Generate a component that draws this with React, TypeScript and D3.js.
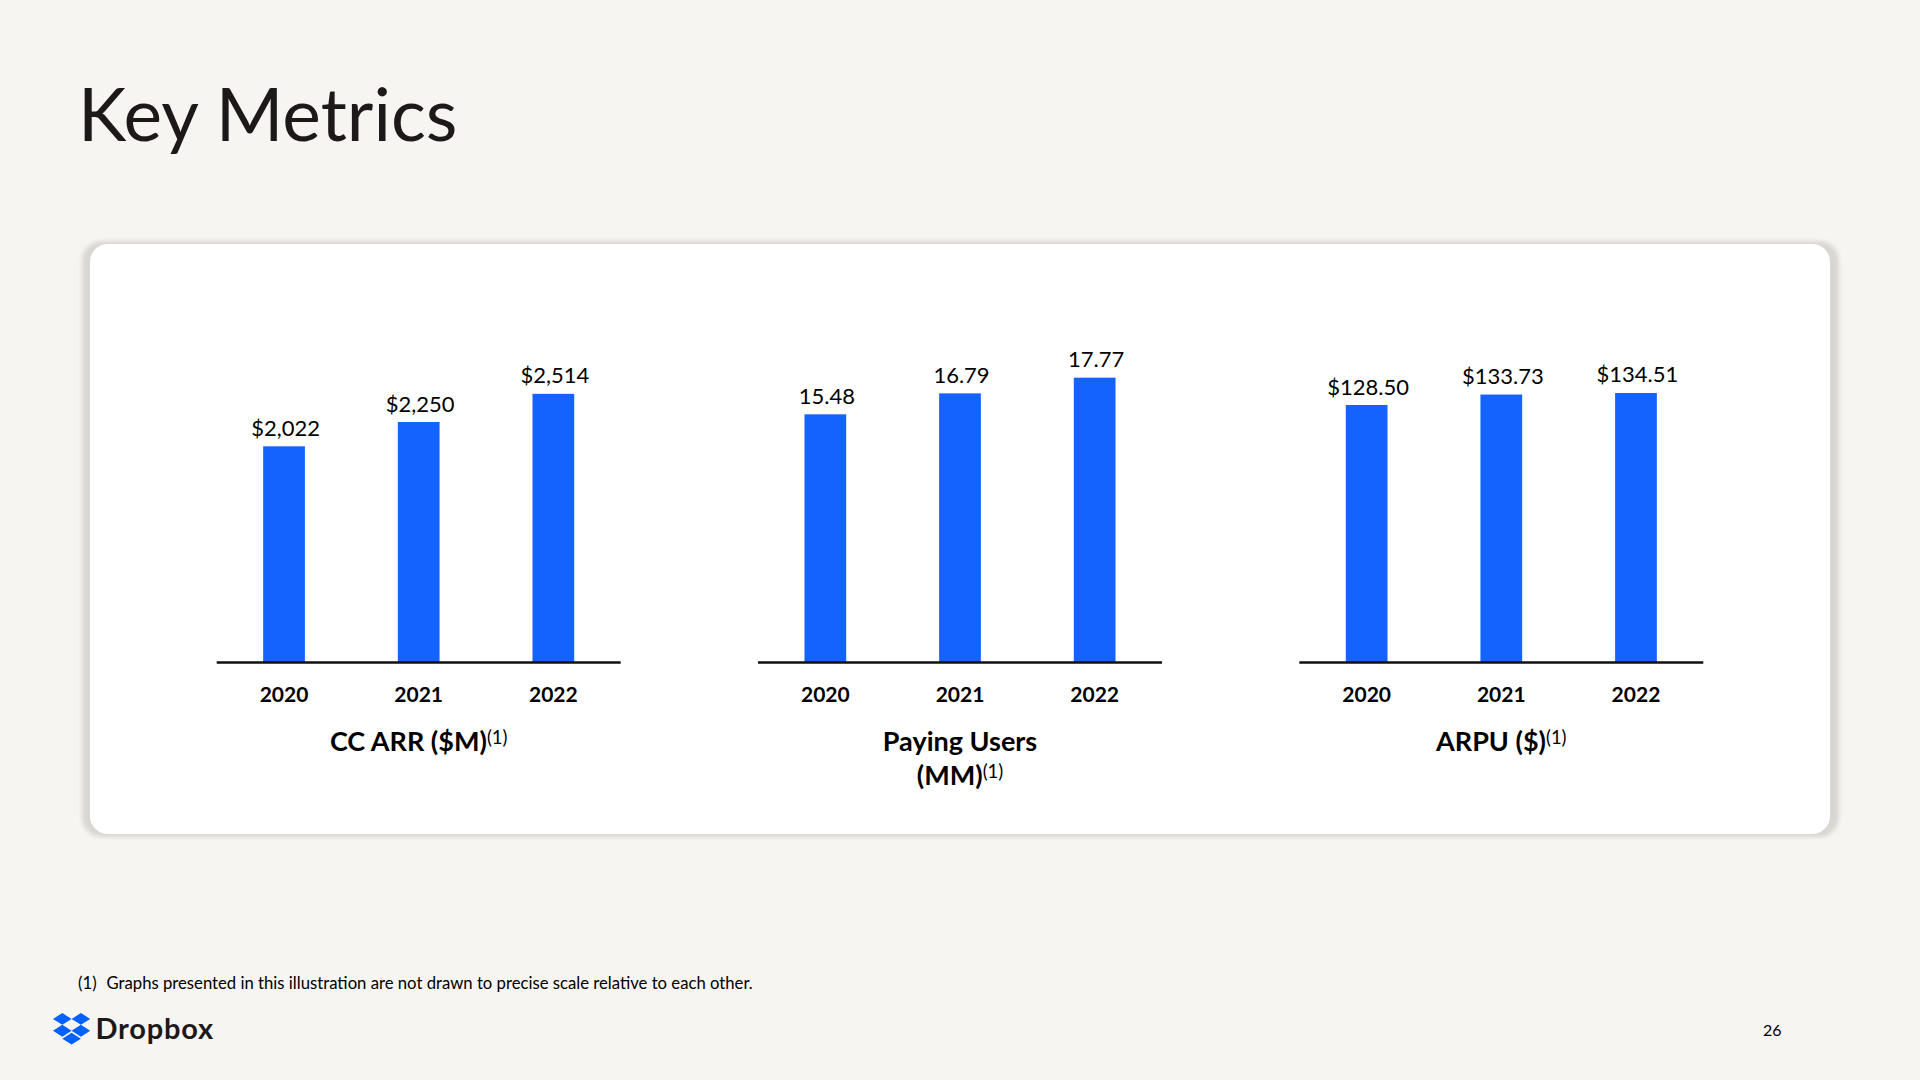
import React from "react";
import * as d3 from "d3";

// ---------- data ----------
const years = ["2020", "2021", "2022"];
const ccArr = [2022, 2250, 2514];
const payingUsers = [15.48, 16.79, 17.77];
const arpu = [128.5, 133.73, 134.51];

const chartTitles = [["CC ARR ($M)"], ["Paying Users", "(MM)"], ["ARPU ($)"]];
const chartMax = [3000, 20, 160];
const footnoteNumber = "(1)";
const footnoteText = "Graphs presented in this illustration are not drawn to precise scale relative to each other.";
const pageNumber = "26";

const formats = [d3.format("$,"), d3.format(".2f"), d3.format("$.2f")];
const seriesList = [ccArr, payingUsers, arpu];

const W = 1920;
const H = 1080;
const BG = "#f7f5f2";
const BLUE = "#1563ff";
const FONT = "Lato, 'Open Sans', sans-serif";

const baseY = 662;
const topY = 342;

const panelScale = d3
  .scaleBand<number>()
  .domain([0, 1, 2])
  .range([216.7, 1703.3])
  .paddingInner(0.2537)
  .paddingOuter(0);

function Panel({ idx }: { idx: number }) {
  const x0 = panelScale(idx)!;
  const w = panelScale.bandwidth();
  const x = d3
    .scaleBand<string>()
    .domain(years)
    .range([x0, x0 + w])
    .paddingInner(0.69)
    .paddingOuter(0.345);
  const y = d3.scaleLinear().domain([0, chartMax[idx]]).range([baseY, topY]);
  const values = seriesList[idx];
  const fmt = formats[idx];
  const cx = x0 + w / 2;
  const titleLines = chartTitles[idx];
  return (
    <g>
      {years.map((yr, i) => (
        <g key={yr}>
          <rect
            x={x(yr)!}
            y={y(values[i])}
            width={x.bandwidth()}
            height={baseY - y(values[i])}
            fill={BLUE}
          />
          <text
            x={x(yr)! + x.bandwidth() / 2 + 1.5}
            y={y(values[i]) - 10.5}
            textAnchor="middle"
            fontSize={22}
            fill="#000"
          >
            {fmt(values[i])}
          </text>
          <text
            x={x(yr)! + x.bandwidth() / 2}
            y={702}
            textAnchor="middle"
            fontSize={21}
            fontWeight={700}
            fill="#000"
          >
            {yr}
          </text>
        </g>
      ))}
      <line x1={x0} x2={x0 + w} y1={baseY + 0.5} y2={baseY + 0.5} stroke="#111" strokeWidth={2.6} />
      {titleLines.map((line, li) => {
        const isLast = li === titleLines.length - 1;
        return (
          <text
            key={li}
            x={cx}
            y={751 + li * 34}
            textAnchor="middle"
            fontSize={27}
            fontWeight={700}
            fill="#000"
          >
            {line}
            {isLast && (
              <tspan fontWeight={400} fontSize={18.5} dy={-7}>
                (1)
              </tspan>
            )}
          </text>
        );
      })}
    </g>
  );
}

const logoPath =
  "M58.86 0L0 37.5 58.86 75 117.73 37.5zM176.59 0L117.73 37.5 176.59 75 235.45 37.5zM0 112.5L58.86 150 117.73 112.5 58.86 75zM176.59 75L117.73 112.5 176.59 150 235.45 112.5zM58.86 162.5L117.73 200 176.59 162.5 117.73 125z";

export default function App() {
  return (
    <svg
      width={W}
      height={H}
      viewBox={`0 0 ${W} ${H}`}
      style={{ position: "absolute", left: 0, top: 0, display: "block" }}
      fontFamily={FONT}
    >
      <defs>
        <filter id="blur" x="-5%" y="-5%" width="110%" height="110%">
          <feGaussianBlur stdDeviation={2} />
        </filter>
      </defs>
      <rect x={0} y={0} width={W} height={H} fill={BG} />
      <text x={78} y={141} fontSize={73} fill="#1e1919">
        Key Metrics
      </text>
      {/* card */}
      <rect x={82} y={241} width={1757} height={596} rx={20} fill="#d9d7d2" filter="url(#blur)" />
      <rect x={90} y={244} width={1740} height={590} rx={18} fill="#ffffff" />
      {[0, 1, 2].map((i) => (
        <Panel key={i} idx={i} />
      ))}
      {/* footnote */}
      <text x={78} y={988.5} fontSize={16.7} fill="#000">
        {footnoteNumber}
      </text>
      <text x={106.5} y={988.5} fontSize={16.7} fill="#000">
        {footnoteText}
      </text>
      {/* logo */}
      <g transform="translate(53,1013) scale(0.158)">
        <path d={logoPath} fill="#0061fe" />
      </g>
      <text x={95.5} y={1039} fontSize={29} fontWeight={700} fill="#1e1919" letterSpacing={0.8}>
        Dropbox
      </text>
      <text x={1763} y={1035.5} fontSize={16} fill="#000">
        {pageNumber}
      </text>
    </svg>
  );
}
